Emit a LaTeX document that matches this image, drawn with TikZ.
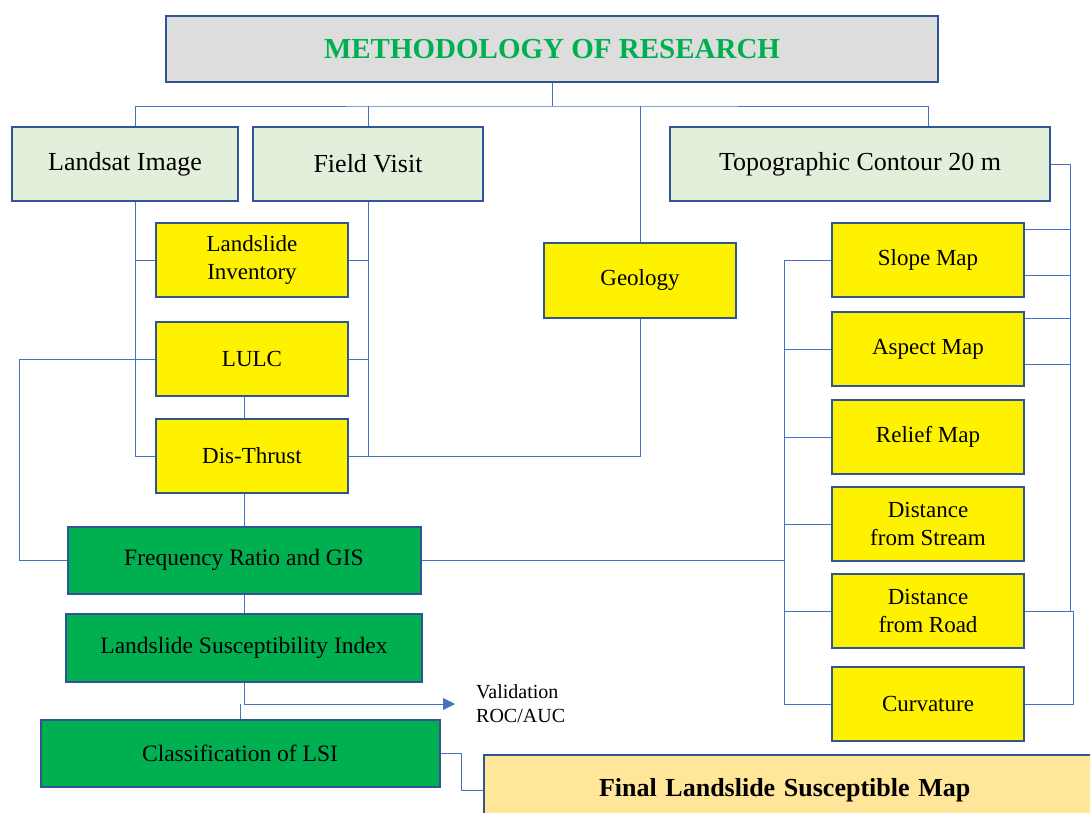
\documentclass[tikz,border=0pt]{standalone}
\usepackage{fontspec}
\setmainfont{Liberation Serif}
\usepackage{tikz}
\usetikzlibrary{arrows.meta}
\usepackage{xcolor}
\definecolor{linkblue}{HTML}{4472C4}
\definecolor{edgeblue}{HTML}{2F5597}
\definecolor{titlegray}{HTML}{DDDDDD}
\definecolor{palegreen}{HTML}{E2EFDA}
\definecolor{boxgreen}{HTML}{00B050}
\definecolor{paleorange}{HTML}{FFE699}

\begin{document}
\begin{tikzpicture}[x=1pt, y=-1pt,
    box/.style={draw=edgeblue, line width=2pt, inner sep=2pt, align=center},
    source/.style={box, fill=palegreen, minimum height=74pt, font=\fontsize{26}{30}\selectfont},
    layer/.style={box, fill=yellow, minimum width=192pt, minimum height=74pt, font=\fontsize{23}{27.5}\selectfont},
    stage/.style={box, fill=boxgreen, minimum height=67pt, font=\fontsize{23.5}{28}\selectfont},
    link/.style={draw=linkblue, line width=0.9pt}]
    \useasboundingbox (0,0) rectangle (1090,812);
    % Titulo
    \node[box, fill=titlegray, text=boxgreen, minimum width=772pt, minimum height=66pt,
          font=\bfseries\fontsize{29}{34}\selectfont] (title) at (552,49) {METHODOLOGY OF RESEARCH};
    % Dados
    \node[source, minimum width=226pt] (landsat) at (125,164) {Landsat Image};
    \node[source, minimum width=230pt] (field) at (368,164) {Field Visit};
    \node[source, minimum width=380pt] (topo) at (860,164) {Topographic Contour 20 m};
    % Fatores
    \node[layer] (inv) at (252,260) {Landslide\\Inventory};
    \node[layer] (lulc) at (252,359) {LULC};
    \node[layer] (thrust) at (252,456) {Dis-Thrust};
    \node[layer, minimum height=75pt] (geology) at (640,280) {Geology};
    \node[layer] (slope) at (928,260) {Slope Map};
    \node[layer] (aspect) at (928,349) {Aspect Map};
    \node[layer] (relief) at (928,437) {Relief Map};
    \node[layer] (stream) at (928,524) {Distance\\from Stream};
    \node[layer] (road) at (928,611) {Distance\\from Road};
    \node[layer] (curv) at (928,704) {Curvature};
    % Modelo
    \node[stage, minimum width=353pt] (freq) at (244,560) {Frequency Ratio and GIS};
    \node[stage, minimum width=356pt, minimum height=68pt] (lsi) at (244,648) {Landslide Susceptibility Index};
    \node[stage, minimum width=399pt] (cls) at (240,753) {Classification of LSI};
    \node[anchor=west, align=left, inner sep=0pt, font=\fontsize{20}{24}\selectfont] (valid) at (476,704) {Validation\\ROC/AUC};
    \node[box, fill=paleorange, anchor=west, align=left, inner xsep=115pt, text width=500pt,
          minimum height=70pt, font=\bfseries\fontsize{26}{30}\selectfont] (final) at (483,790) {Final Landslide Susceptible Map};
    % Ligacoes do topo
    \coordinate (bus) at (552,106);
    \draw[link] (title.south) -- (bus);
    \draw[link] ([xshift=10pt]landsat.north) |- (bus) -| ([xshift=68pt]topo.north);
    \draw[link] (field.north) -- (field.north |- bus);
    \draw[link] (geology.north) -- (geology.north |- bus);
    % Coluna esquerda
    \coordinate (lbus) at ([xshift=10pt]landsat.south);
    \draw[link] (lbus) |- (thrust.west);
    \draw[link] (lbus |- inv.west) -- (inv.west);
    \draw[link] (lbus |- lulc.west) -- (lulc.west);
    \draw[link] (field.south) |- (thrust.east);
    \draw[link] (field.south |- inv.east) -- (inv.east);
    \draw[link] (field.south |- lulc.east) -- (lulc.east);
    \draw[link] (thrust.east) -| (geology.south);
    \draw[link] (lulc.west) -- ++(-136,0) |- (freq.west);
    \draw[link] (lulc.south -| freq.north) -- (thrust.north -| freq.north);
    \draw[link] (thrust.south -| freq.north) -- (freq.north);
    \draw[link] (freq.south) -- (lsi.north);
    % Validacao
    \draw[link] (lsi.south) -- ++(0,21) coordinate (split);
    \draw[link, -{Triangle[length=12pt, width=12pt]}, shorten >=21pt] (split) -- (split -| valid.west);
    \draw[link] (cls.north) -- (cls.north |- split);
    \draw[link] (cls.east) -- ++(21,0) |- (final.west);
    % Coluna direita
    \draw[link] (topo.east) -- ++(19,0) coordinate (rbus) |- (road.east);
    \foreach \n in {slope,aspect}{
        \draw[link] ([yshift=-7pt]\n.north east) -| (rbus);
        \draw[link] ([yshift=-15pt]\n.east) -| (rbus);
    }
    \draw[link] (road.east) -- ++(48,0) |- (curv.east);
    \draw[link] (slope.west) -- ++(-47,0) coordinate (mbus) |- (curv.west);
    \foreach \n in {aspect,relief,stream,road}
        \draw[link] (\n.west) -- (mbus |- \n.west);
    \draw[link] (freq.east) -- (mbus |- freq.east);
\end{tikzpicture}
\end{document}
